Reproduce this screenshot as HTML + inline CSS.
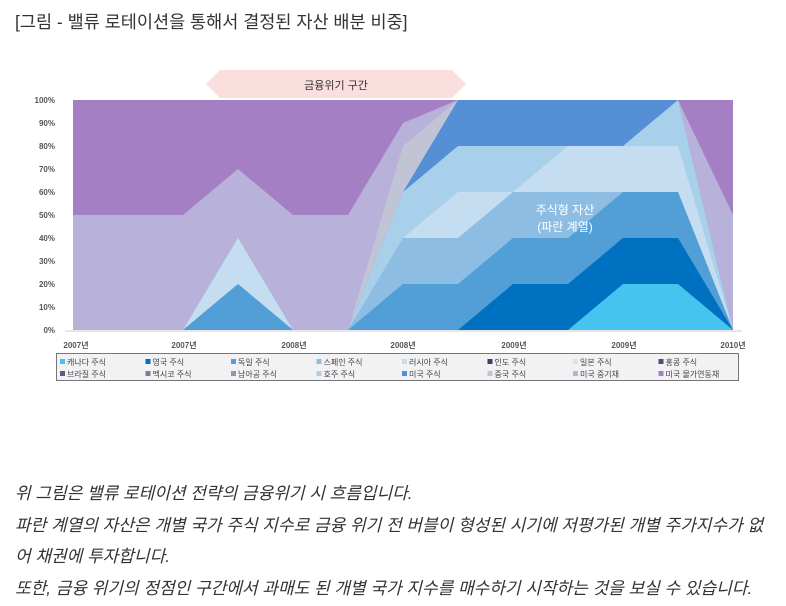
<!DOCTYPE html>
<html><head><meta charset="utf-8"><style>
body{margin:0;background:#fff;width:786px;height:606px;overflow:hidden;position:relative;font-family:"Liberation Sans","Noto Sans CJK KR",sans-serif;}
.t{position:absolute;white-space:nowrap;}
.p{position:absolute;left:15px;font-size:17px;color:#333;font-style:italic;white-space:nowrap;letter-spacing:0px;}
</style></head><body>
<div class="t" style="left:15px;top:9px;font-size:17.5px;color:#333;">[그림 - 밸류 로테이션을 통해서 결정된 자산 배분 비중]</div>
<svg width="786" height="400" style="position:absolute;left:0;top:0" font-family="Liberation Sans, Noto Sans CJK KR, sans-serif">
<polygon points="206,84 220,70 452,70 452,70 466,84 452,98 220,98" fill="#fbdede"/>
<text x="336" y="89" font-size="11" text-anchor="middle" fill="#333">금융위기 구간</text>
<g id="areas"></g>
<g font-size="8" fill="#555" text-anchor="end" font-weight="bold">
<text x="55" y="103">100%</text><text x="55" y="126">90%</text><text x="55" y="149">80%</text><text x="55" y="172">70%</text><text x="55" y="195">60%</text><text x="55" y="218">50%</text><text x="55" y="241">40%</text><text x="55" y="264">30%</text><text x="55" y="287">20%</text><text x="55" y="310">10%</text><text x="55" y="333">0%</text>
</g>
<line x1="65" y1="331" x2="742" y2="331" stroke="#ccc"/>
<g font-size="8" fill="#555" text-anchor="middle" font-weight="bold">
<text x="76" y="348">2007년</text><text x="184" y="348">2007년</text><text x="294" y="348">2008년</text><text x="403" y="348">2008년</text><text x="514" y="348">2009년</text><text x="624" y="348">2009년</text><text x="733" y="348">2010년</text>
</g>
<rect x="56.5" y="353.5" width="682" height="27" fill="#f2f2f5" stroke="#777"/>
<g font-size="8" fill="#444" id="leg"></g>
<text x="393" y="413" font-size="12" fill="#555" text-anchor="middle">Source : Bloomberg, Doomoolmori</text>
<text x="565" y="214" font-size="12" fill="#fff" text-anchor="middle">주식형 자산</text>
<text x="565" y="231" font-size="12" fill="#fff" text-anchor="middle">(파란 계열)</text>
</svg>
<script>
var S=[
["#a57fc4",[100,100,100,100,100,100,100,100,100,100,100,100,100]],
["#b8b2da",[50,50,50,70,50,50,90,100,100,100,100,100,50]],
["#c0c4d4",[0,0,0,40,0,0,80,100,100,100,100,100,0]],
["#558fd6",[0,0,0,40,0,0,60,100,100,100,100,100,0]],
["#a9d0ea",[0,0,0,40,0,0,60,80,80,80,80,100,0]],
["#c5ddf0",[0,0,0,40,0,0,40,60,60,80,80,80,0]],
["#8dbde2",[0,0,0,20,0,0,40,40,60,60,60,60,0]],
["#519fd6",[0,0,0,20,0,0,20,20,40,40,60,60,0]],
["#0070c0",[0,0,0,0,0,0,0,0,20,20,40,40,0]],
["#45c4f0",[0,0,0,0,0,0,0,0,0,0,20,20,0]]];
var g=document.getElementById('areas'),h='';
S.forEach(function(s){var p='73,330 ';s[1].forEach(function(v,i){p+=(73+i*55)+','+(330-v*2.3)+' ';});p+='733,330';h+='<polygon points="'+p+'" fill="'+s[0]+'"/>';});
g.innerHTML=h;
var L=[["#45c4f0","캐나다 주식"],["#0070c0","영국 주식"],["#519fd6","독일 주식"],["#8dbde2","스페인 주식"],["#c5ddf0","러시아 주식"],["#3c3f6e","인도 주식"],["#f9d4e4","일본 주식"],["#4c4f7a","홍콩 주식"],
["#5a5d8a","브라질 주식"],["#7a7d9a","멕시코 주식"],["#9496b0","남아공 주식"],["#a9d0ea","호주 주식"],["#558fd6","미국 주식"],["#c0c4d4","중국 주식"],["#b8b2da","미국 중기채"],["#a57fc4","미국 물가연동채"]];
var lh='';L.forEach(function(l,k){var x=60+(k%8)*85.5,y=k<8?365:377;lh+='<rect x="'+x+'" y="'+(y-6)+'" width="5" height="5" fill="'+l[0]+'"/><text x="'+(x+7)+'" y="'+y+'">'+l[1]+'</text>';});
document.getElementById('leg').innerHTML=lh;
</script>
<div class="p" style="top:479px;">위 그림은 밸류 로테이션 전략의 금융위기 시 흐름입니다.</div>
<div class="p" style="top:511px;">파란 계열의 자산은 개별 국가 주식 지수로 금융 위기 전 버블이 형성된 시기에 저평가된 개별 주가지수가 없</div>
<div class="p" style="top:542px;">어 채권에 투자합니다.</div>
<div class="p" style="top:574px;">또한, 금융 위기의 정점인 구간에서 과매도 된 개별 국가 지수를 매수하기 시작하는 것을 보실 수 있습니다.</div>
</body></html>
